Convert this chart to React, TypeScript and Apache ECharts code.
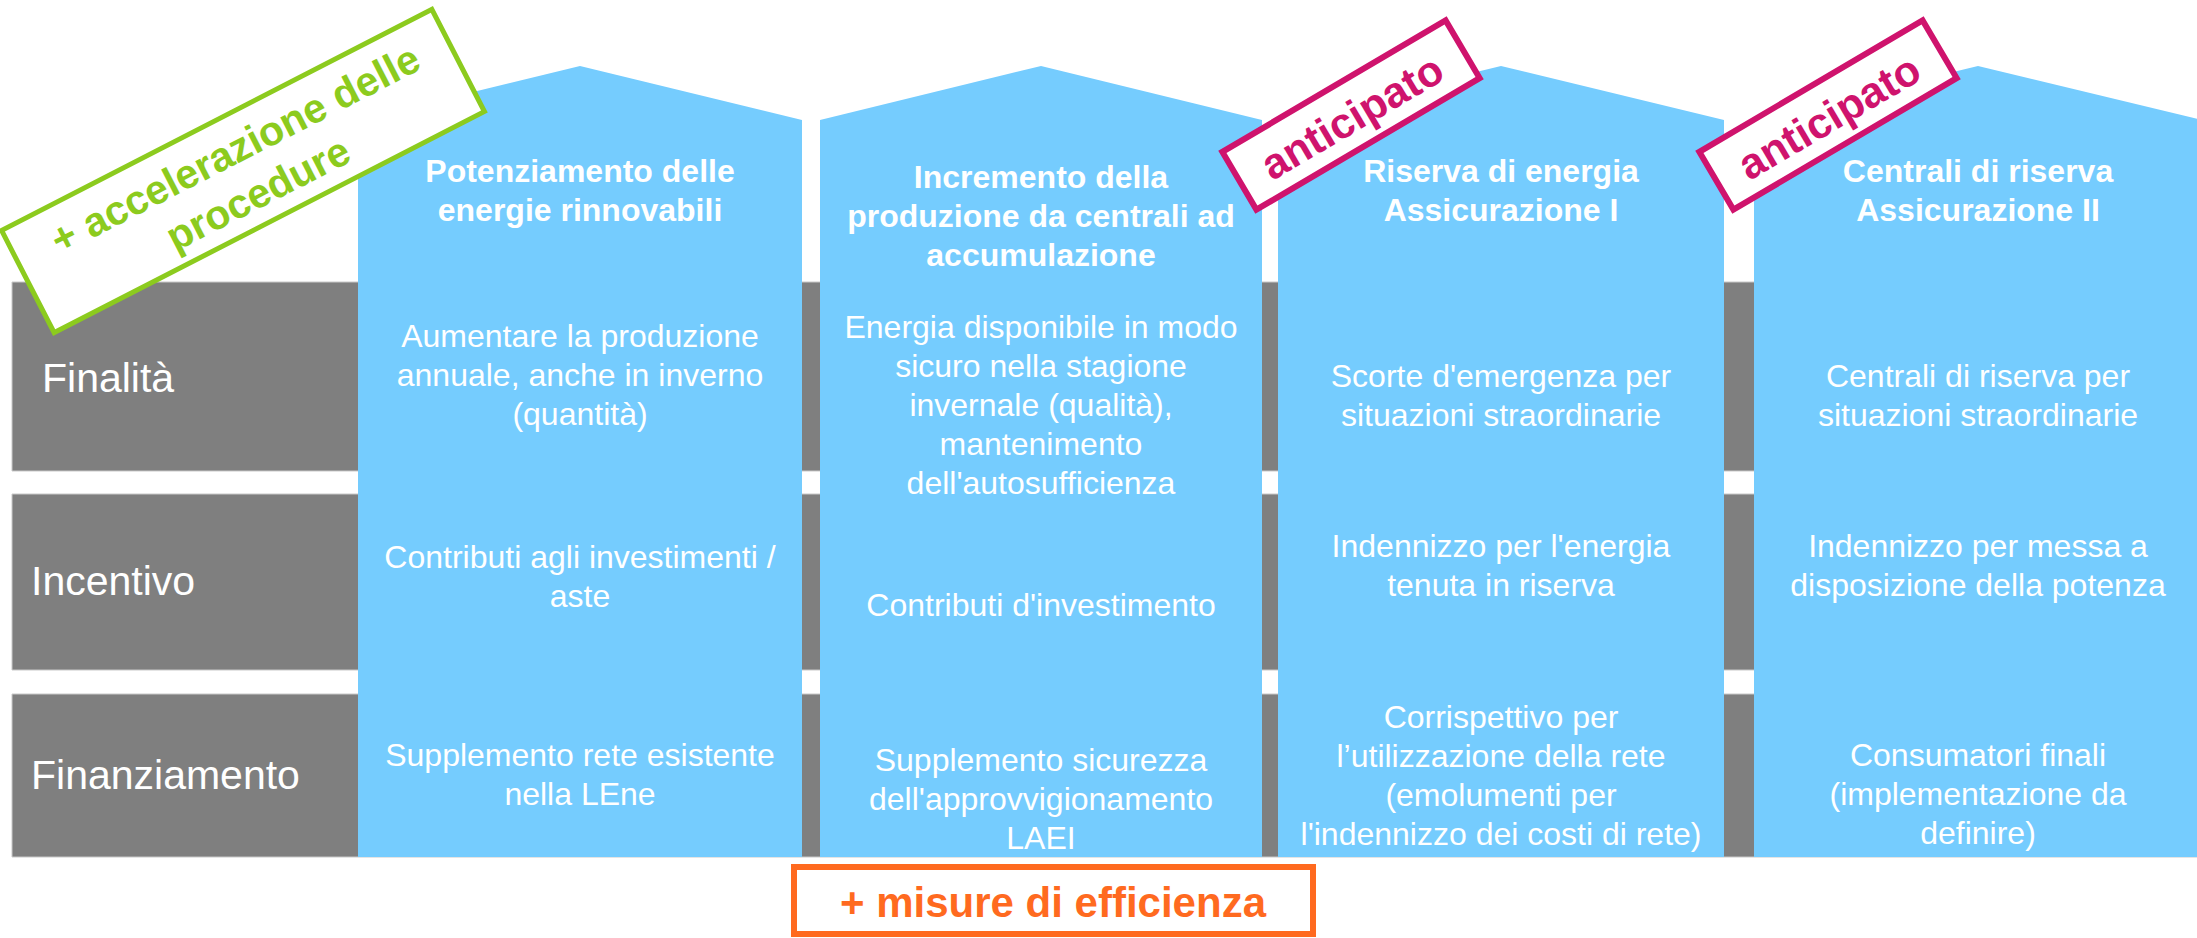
import React, { useEffect, useRef } from "react";
import * as echarts from "echarts";

// ---- data ----
const rowLabels = ["Finalità", "Incentivo", "Finanziamento"];

const houseTitles = [
  ["Potenziamento delle", "energie rinnovabili"],
  ["Incremento della", "produzione da centrali ad", "accumulazione"],
  ["Riserva di energia", "Assicurazione I"],
  ["Centrali di riserva", "Assicurazione II"],
];

const finalita = [
  ["Aumentare la produzione", "annuale, anche in inverno", "(quantità)"],
  ["Energia disponibile in modo", "sicuro nella stagione", "invernale (qualità),", "mantenimento", "dell'autosufficienza"],
  ["Scorte d'emergenza per", "situazioni straordinarie"],
  ["Centrali di riserva per", "situazioni straordinarie"],
];

const incentivo = [
  ["Contributi agli investimenti /", "aste"],
  ["Contributi d'investimento"],
  ["Indennizzo per l'energia", "tenuta in riserva"],
  ["Indennizzo per messa a", "disposizione della potenza"],
];

const finanziamento = [
  ["Supplemento rete esistente", "nella LEne"],
  ["Supplemento sicurezza", "dell'approvvigionamento", "LAEI"],
  ["Corrispettivo per", "l’utilizzazione della rete", "(emolumenti per", "l'indennizzo dei costi di rete)"],
  ["Consumatori finali", "(implementazione da", "definire)"],
];

const greenCallout = ["+ accelerazione delle", "procedure"];
const magentaCallout = "anticipato";
const magentaCalloutHouses = [2, 3];
const orangeCallout = "+ misure di efficienza";

// ---- layout / style ----
const W = 2197;
const H = 938;
const FONT = '"Liberation Sans", Arial, Helvetica, sans-serif';
const BLUE = "#75CCFE";
const GRAY = "#7F7F7F";
const GREEN = "#8CCB1E";
const MAGENTA = "#CF136D";
const ORANGE = "#FF6A1F";

const houseX: [number, number][] = [
  [358, 802],
  [820, 1262],
  [1278, 1724],
  [1754, 2202],
];
const ROOF_PEAK = 66;
const EAVE = 120;
const BOTTOM = 857;
const rowsY: [number, number][] = [
  [282, 471],
  [494, 670],
  [694, 857],
];
const rowLabelX = [42, 31, 31];
const rowLabelY = [378, 581, 775];
const titleCenterY = [190, 216, 190, 190];
const bodyCenterY = [
  [375, 405, 395, 395],
  [576, 605, 565, 565],
  [774, 799, 775, 794],
];
const LH = 39;

function textBlock(lines: string[], cx: number, cy: number, size: number, weight: string, color: string) {
  return {
    type: "text",
    x: cx,
    y: cy,
    z: 10,
    style: {
      text: lines.join("\n"),
      fill: color,
      fontSize: size,
      fontWeight: weight,
      fontFamily: FONT,
      textAlign: "center",
      textVerticalAlign: "middle",
      align: "center",
      verticalAlign: "middle",
      lineHeight: LH,
    },
  };
}

export default function App() {
  const ref = useRef<HTMLDivElement>(null);

  useEffect(() => {
    document.body.style.margin = "0";
    if (!ref.current) return;
    const chart = echarts.init(ref.current, undefined, { renderer: "svg" });

    const elements: any[] = [];

    // gray rows
    rowsY.forEach(([y0, y1], i) => {
      elements.push({
        type: "rect",
        z: 1,
        shape: { x: 12, y: y0, width: W, height: y1 - y0 },
        style: { fill: GRAY, stroke: "#C9C9C9", lineWidth: 1 },
      });
      elements.push({
        type: "text",
        z: 2,
        x: rowLabelX[i],
        y: rowLabelY[i],
        style: {
          text: rowLabels[i],
          fill: "#FFFFFF",
          fontSize: 41,
          fontFamily: FONT,
          textAlign: "left",
          textVerticalAlign: "middle",
          align: "left",
          verticalAlign: "middle",
        },
      });
    });

    // houses
    houseX.forEach(([l, r], i) => {
      const cx = (l + r) / 2;
      elements.push({
        type: "polygon",
        z: 5,
        shape: {
          points: [
            [l, EAVE],
            [cx, ROOF_PEAK],
            [r, EAVE],
            [r, BOTTOM],
            [l, BOTTOM],
          ],
        },
        style: { fill: BLUE },
      });
      elements.push(textBlock(houseTitles[i], cx, titleCenterY[i], 32, "bold", "#FFFFFF"));
      [finalita, incentivo, finanziamento].forEach((rowData, r0) => {
        elements.push(textBlock(rowData[i], cx, bodyCenterY[r0][i], 32, "normal", "#FFFFFF"));
      });
    });

    // green callout
    elements.push({
      type: "group",
      x: 243,
      y: 171,
      rotation: (27.2 * Math.PI) / 180,
      z: 20,
      children: [
        {
          type: "rect",
          z: 20,
          shape: { x: -242, y: -57.5, width: 484, height: 115 },
          style: { fill: "#FFFFFF", stroke: GREEN, lineWidth: 5 },
        },
        {
          type: "text",
          z: 21,
          x: 3,
          y: 2,
          style: {
            text: greenCallout.join("\n"),
            fill: GREEN,
            fontSize: 41,
            fontWeight: "bold",
            fontFamily: FONT,
            textAlign: "center",
            textVerticalAlign: "middle",
            align: "center",
            verticalAlign: "middle",
            lineHeight: 50,
          },
        },
      ],
    });

    // magenta callouts
    const magentaCenters = [
      [1351, 115],
      [1828, 115],
    ];
    magentaCalloutHouses.forEach((_, k) => {
      elements.push({
        type: "group",
        x: magentaCenters[k][0],
        y: magentaCenters[k][1],
        rotation: (30.5 * Math.PI) / 180,
        z: 20,
        children: [
          {
            type: "rect",
            z: 20,
            shape: { x: -129.5, y: -33.5, width: 259, height: 67 },
            style: { fill: "#FFFFFF", stroke: MAGENTA, lineWidth: 6 },
          },
          {
            type: "text",
            z: 21,
            x: 0,
            y: 2,
            style: {
              text: magentaCallout,
              fill: MAGENTA,
              fontSize: 43,
              fontWeight: "bold",
              fontFamily: FONT,
              textAlign: "center",
              textVerticalAlign: "middle",
              align: "center",
              verticalAlign: "middle",
            },
          },
        ],
      });
    });

    // orange callout
    elements.push({
      type: "rect",
      z: 20,
      shape: { x: 794, y: 867, width: 519, height: 67 },
      style: { fill: "#FFFFFF", stroke: ORANGE, lineWidth: 6 },
    });
    elements.push({
      type: "text",
      z: 21,
      x: 1053,
      y: 902,
      style: {
        text: orangeCallout,
        fill: ORANGE,
        fontSize: 42,
        fontWeight: "bold",
        fontFamily: FONT,
        textAlign: "center",
        textVerticalAlign: "middle",
        align: "center",
        verticalAlign: "middle",
      },
    });

    chart.setOption({
      animation: false,
      backgroundColor: "#FFFFFF",
      graphic: { elements },
    });

    return () => {
      chart.dispose();
    };
  }, []);

  return (
    <div
      ref={ref}
      style={{ width: W, height: H, position: "absolute", left: 0, top: 0 }}
    />
  );
}
